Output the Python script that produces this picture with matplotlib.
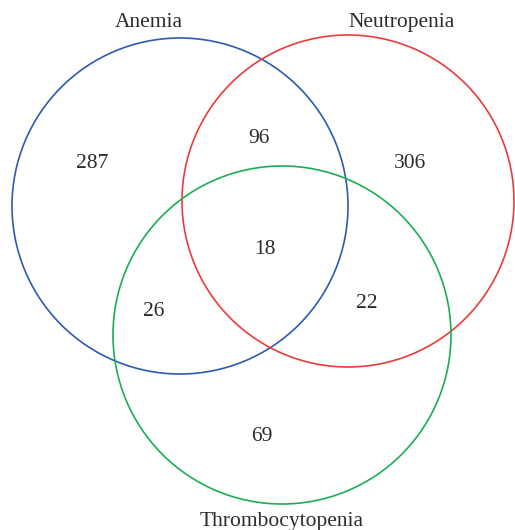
import matplotlib.pyplot as plt
from matplotlib.patches import Circle

# set names and region counts
set_names = ["Anemia", "Neutropenia", "Thrombocytopenia"]
set_colors = ["#2d5bb0", "#ec3b3b", "#1aae55"]
region_labels = ["A only", "A&N", "N only", "A&N&T", "A&T", "N&T", "T only"]
region_counts = [287, 96, 306, 18, 26, 22, 69]

# circle geometry (pixel coords, y down)
centers = [(180, 206), (348, 201), (282, 335)]
radii = [168, 166, 169]
# text anchors: (x centre, baseline)
name_pos = [(148.5, 27), (401.5, 27), (282, 526)]
count_pos = [(92, 168), (258.5, 143), (410, 168), (265, 254),
             (153.5, 316.5), (366.5, 308.5), (262, 441)]

plt.rcParams['font.family'] = ['Liberation Serif', 'DejaVu Serif']

fig = plt.figure(figsize=(5.15, 5.3), dpi=100)
ax = fig.add_axes([0, 0, 1, 1])
ax.set_xlim(0, 515)
ax.set_ylim(530, 0)
ax.set_aspect('equal')
ax.axis('off')

for c, r, col in zip(centers, radii, set_colors):
    ax.add_patch(Circle(c, r, fill=False, edgecolor=col, linewidth=1.2))

for name, (x, y) in zip(set_names, name_pos):
    ax.text(x, y, name, ha='center', va='baseline', fontsize=15.5, color='#2b2b2b')

for n, (x, y) in zip(region_counts, count_pos):
    ax.text(x, y, str(n), ha='center', va='baseline', fontsize=15.5, color='#2b2b2b')

fig.savefig("out.png", dpi=100)
